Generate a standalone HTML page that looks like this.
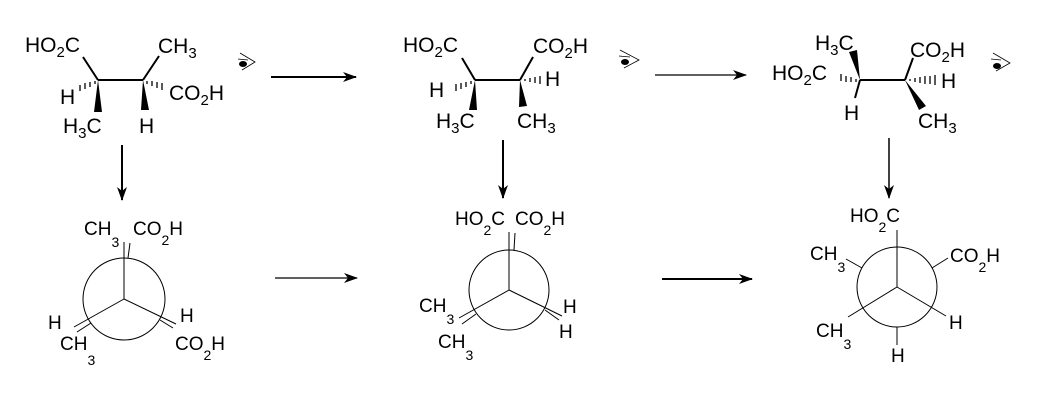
<!DOCTYPE html>
<html><head><style>body{margin:0;background:#fff}svg{display:block}text{font-family:"Liberation Sans",Arial,sans-serif;fill:#000}.m text{font-size:21px}.n text{font-size:19px}.m tspan.s{font-size:15px}.n tspan.s{font-size:14px}</style></head><body>
<svg width="1038" height="417" viewBox="0 0 1038 417" xmlns="http://www.w3.org/2000/svg">
<defs><marker id="ah" markerWidth="14" markerHeight="10" refX="13" refY="5" orient="auto" markerUnits="userSpaceOnUse"><path d="M0,0 L14,5 L0,10 L4,5 Z" fill="#000"/></marker></defs>
<g class="m">
<text x="25" y="52">HO<tspan class="s" dy="5">2</tspan><tspan dy="-5">C</tspan></text>
<text x="158" y="53">CH<tspan class="s" dy="5">3</tspan></text>
<text x="60" y="104">H</text>
<text x="63" y="133">H<tspan class="s" dy="5">3</tspan><tspan dy="-5">C</tspan></text>
<text x="169" y="100">CO<tspan class="s" dy="5">2</tspan><tspan dy="-5">H</tspan></text>
<text x="139" y="133">H</text>
<text x="403" y="52">HO<tspan class="s" dy="5">2</tspan><tspan dy="-5">C</tspan></text>
<text x="533" y="53">CO<tspan class="s" dy="5">2</tspan><tspan dy="-5">H</tspan></text>
<text x="545" y="86">H</text>
<text x="429" y="97">H</text>
<text x="436" y="128">H<tspan class="s" dy="5">3</tspan><tspan dy="-5">C</tspan></text>
<text x="517" y="128">CH<tspan class="s" dy="5">3</tspan></text>
<text x="815" y="50">H<tspan class="s" dy="5">3</tspan><tspan dy="-5">C</tspan></text>
<text x="772" y="80">HO<tspan class="s" dy="5">2</tspan><tspan dy="-5">C</tspan></text>
<text x="844" y="120">H</text>
<text x="910" y="57">CO<tspan class="s" dy="5">2</tspan><tspan dy="-5">H</tspan></text>
<text x="941" y="88">H</text>
<text x="918" y="128">CH<tspan class="s" dy="5">3</tspan></text>
</g>
<g stroke="#000" stroke-width="2" fill="none">
<line x1="83" y1="57" x2="98" y2="80"/><line x1="98" y1="80" x2="143" y2="80"/><line x1="143" y1="80" x2="159" y2="56"/>
<line x1="462" y1="58" x2="475" y2="80"/><line x1="475" y1="80" x2="520" y2="80"/><line x1="520" y1="80" x2="533" y2="57"/>
<line x1="860" y1="80" x2="905" y2="80"/><line x1="860" y1="80" x2="855" y2="98"/><line x1="905" y1="80" x2="913" y2="58"/>
</g>
<g fill="#000">
<polygon points="98,80 94,112 102,112"/><polygon points="143,80 141,110 149,110"/>
<polygon points="475,80 469,110 477,110"/><polygon points="520,80 519,107 527,106"/>
<polygon points="860,80 849,52 857,50"/><polygon points="905,80 919,110 926,106"/>
</g>
<g stroke="#000" stroke-width="1.3">
<line x1="95" y1="81" x2="95" y2="84"/><line x1="90" y1="82" x2="90" y2="87"/><line x1="85" y1="83" x2="85" y2="89"/><line x1="80" y1="85" x2="80" y2="91"/>
<line x1="147" y1="81" x2="147" y2="84"/><line x1="152" y1="81" x2="152" y2="86"/><line x1="157" y1="82" x2="157" y2="88"/><line x1="162" y1="83" x2="162" y2="90"/>
<line x1="471" y1="81" x2="471" y2="84"/><line x1="466" y1="82" x2="466" y2="87"/><line x1="461" y1="83" x2="461" y2="89"/><line x1="456" y1="84" x2="456" y2="91"/>
<line x1="525" y1="79" x2="525" y2="81"/><line x1="530" y1="78" x2="530" y2="82"/><line x1="535" y1="77" x2="535" y2="83"/><line x1="540" y1="76" x2="540" y2="84"/>
<line x1="856" y1="79" x2="856" y2="82"/><line x1="851" y1="77" x2="851" y2="82"/><line x1="846" y1="76" x2="846" y2="82"/><line x1="841" y1="74" x2="841" y2="81"/>
<line x1="910" y1="79" x2="910" y2="81"/><line x1="915" y1="78" x2="915" y2="82"/><line x1="920" y1="77" x2="920" y2="83"/><line x1="925" y1="76" x2="925" y2="84"/><line x1="930" y1="76" x2="930" y2="84"/><line x1="935" y1="75" x2="935" y2="85"/>
</g>
<g stroke="#000" stroke-width="0.8" fill="none">
<path d="M240,53 L255,62 L242,70 M238,59 L248,60"/><path d="M620,50 L639,60 L624,68 M619,56 L630,57"/><path d="M993,53 L1010,63 L996,71 M991,59 L1001,60"/>
</g>
<ellipse cx="243" cy="64" rx="4" ry="3" fill="#000"/><ellipse cx="625" cy="62" rx="4" ry="3" fill="#000"/><ellipse cx="997" cy="66" rx="4" ry="3" fill="#000"/>
<g stroke="#000" fill="none">
<line x1="271" y1="77" x2="356" y2="77" stroke-width="2" marker-end="url(#ah)"/>
<line x1="655" y1="75" x2="746" y2="75" stroke-width="1.2" marker-end="url(#ah)"/>
<line x1="122" y1="145" x2="122" y2="200" stroke-width="2" marker-end="url(#ah)"/>
<line x1="503" y1="140" x2="503" y2="198" stroke-width="2" marker-end="url(#ah)"/>
<line x1="889" y1="138" x2="889" y2="198" stroke-width="1.5" marker-end="url(#ah)"/>
<line x1="275" y1="278" x2="357" y2="278" stroke-width="1.2" marker-end="url(#ah)"/>
<line x1="662" y1="279" x2="752" y2="279" stroke-width="2" marker-end="url(#ah)"/>
</g>
<g stroke="#000" stroke-width="1" fill="none">
<circle cx="124" cy="299" r="41"/>
<line x1="124" y1="299" x2="124" y2="242"/><line x1="124" y1="299" x2="74" y2="327"/><line x1="124" y1="299" x2="176" y2="324"/>
<line x1="128" y1="258" x2="130" y2="243"/><line x1="91" y1="323" x2="77" y2="332"/><line x1="160" y1="320" x2="173" y2="328"/>
<circle cx="509" cy="290" r="40"/>
<line x1="509" y1="290" x2="509" y2="232"/><line x1="509" y1="290" x2="459" y2="318"/><line x1="509" y1="290" x2="562" y2="316"/>
<line x1="514" y1="250" x2="515" y2="233"/><line x1="476" y1="314" x2="462" y2="324"/><line x1="545" y1="310" x2="559" y2="320"/>
<circle cx="897" cy="287" r="40"/>
<line x1="897" y1="287" x2="897" y2="230"/><line x1="897" y1="287" x2="848" y2="317"/><line x1="897" y1="287" x2="946" y2="316"/>
<line x1="862" y1="268" x2="846" y2="259"/><line x1="932" y1="268" x2="948" y2="258"/><line x1="897" y1="327" x2="897" y2="345"/>
</g>
<g class="n">
<text x="84" y="235">CH<tspan class="s" dy="12">3</tspan></text>
<text x="133" y="235">CO<tspan class="s" dy="10">2</tspan><tspan dy="-10">H</tspan></text>
<text x="48" y="329">H</text>
<text x="60" y="350">CH<tspan class="s" dy="15">3</tspan></text>
<text x="175" y="350">CO<tspan class="s" dy="10">2</tspan><tspan dy="-10">H</tspan></text>
<text x="180" y="322">H</text>
<text x="455" y="225">HO<tspan class="s" dy="10">2</tspan><tspan dy="-10">C</tspan></text>
<text x="515" y="225">CO<tspan class="s" dy="10">2</tspan><tspan dy="-10">H</tspan></text>
<text x="419" y="312">CH<tspan class="s" dy="12">3</tspan></text>
<text x="438" y="348">CH<tspan class="s" dy="12">3</tspan></text>
<text x="563" y="313">H</text>
<text x="559" y="338">H</text>
<text x="850" y="222">HO<tspan class="s" dy="10">2</tspan><tspan dy="-10">C</tspan></text>
<text x="810" y="260">CH<tspan class="s" dy="12">3</tspan></text>
<text x="950" y="262">CO<tspan class="s" dy="10">2</tspan><tspan dy="-10">H</tspan></text>
<text x="949" y="329">H</text>
<text x="816" y="337">CH<tspan class="s" dy="12">3</tspan></text>
<text x="891" y="362">H</text>
</g>
</svg>
</body></html>
